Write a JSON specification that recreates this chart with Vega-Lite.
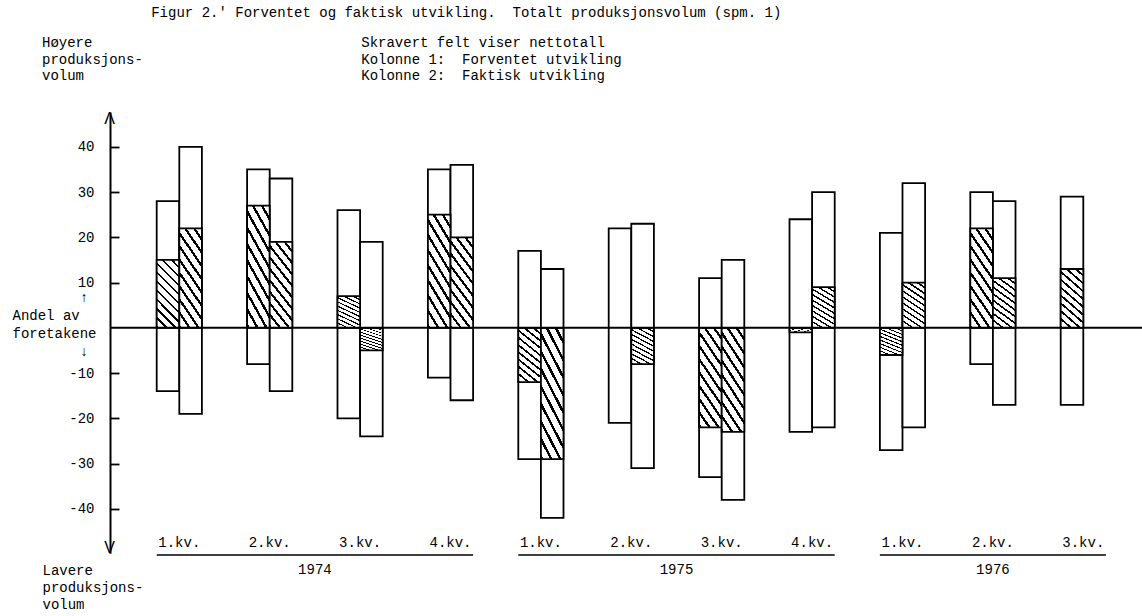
{
  "$schema": "https://vega.github.io/schema/vega-lite/v6.json",
  "width": 1032,
  "height": 441.2,
  "autosize": {"type": "none"},
  "padding": {"left": 110, "top": 112, "right": 0, "bottom": 62.8},
  "background": "white",
  "config": {
    "view": {"stroke": null},
    "font": "Liberation Mono",
    "axis": {
      "labelFont": "Liberation Mono", "labelFontSize": 14, "labelColor": "black",
      "titleFont": "Liberation Mono", "titleFontSize": 14, "titleFontWeight": "normal", "titleColor": "black",
      "domainColor": "black", "tickColor": "black", "grid": false
    }
  },
  "resolve": {"axis": {"y": "independent"}},
  "title": {
    "text": "\u200b\u00a0\u00a0\u00a0\u00a0\u00a0\u00a0\u00a0\u00a0\u00a0\u00a0\u00a0\u00a0\u00a0Figur 2.'\u00a0Forventet og faktisk utvikling.\u00a0\u00a0Totalt produksjonsvolum (spm. 1)",
    "subtitle": [
      "Høyere\u00a0\u00a0\u00a0\u00a0\u00a0\u00a0\u00a0\u00a0\u00a0\u00a0\u00a0\u00a0\u00a0\u00a0\u00a0\u00a0\u00a0\u00a0\u00a0\u00a0\u00a0\u00a0\u00a0\u00a0\u00a0\u00a0\u00a0\u00a0\u00a0\u00a0\u00a0\u00a0Skravert felt viser nettotall",
      "produksjons-\u00a0\u00a0\u00a0\u00a0\u00a0\u00a0\u00a0\u00a0\u00a0\u00a0\u00a0\u00a0\u00a0\u00a0\u00a0\u00a0\u00a0\u00a0\u00a0\u00a0\u00a0\u00a0\u00a0\u00a0\u00a0\u00a0Kolonne 1:\u00a0\u00a0Forventet utvikling",
      "volum\u00a0\u00a0\u00a0\u00a0\u00a0\u00a0\u00a0\u00a0\u00a0\u00a0\u00a0\u00a0\u00a0\u00a0\u00a0\u00a0\u00a0\u00a0\u00a0\u00a0\u00a0\u00a0\u00a0\u00a0\u00a0\u00a0\u00a0\u00a0\u00a0\u00a0\u00a0\u00a0\u00a0Kolonne 2:\u00a0\u00a0Faktisk utvikling"
    ],
    "anchor": "start",
    "frame": "group",
    "dx": -68,
    "offset": 27,
    "font": "Liberation Mono",
    "fontSize": 14,
    "fontWeight": "normal",
    "color": "black",
    "subtitleFont": "Liberation Mono",
    "subtitleFontSize": 14,
    "subtitleColor": "black",
    "subtitleLineHeight": 16.5,
    "subtitlePadding": 16
  },
  "datasets": {
    "bars": [
      {"period": "1974-1", "col": "1", "top": 28, "net": 15, "bottom": -14},
      {"period": "1974-1", "col": "2", "top": 40, "net": 22, "bottom": -19},
      {"period": "1974-2", "col": "1", "top": 35, "net": 27, "bottom": -8},
      {"period": "1974-2", "col": "2", "top": 33, "net": 19, "bottom": -14},
      {"period": "1974-3", "col": "1", "top": 26, "net": 7, "bottom": -20},
      {"period": "1974-3", "col": "2", "top": 19, "net": -5, "bottom": -24},
      {"period": "1974-4", "col": "1", "top": 35, "net": 25, "bottom": -11},
      {"period": "1974-4", "col": "2", "top": 36, "net": 20, "bottom": -16},
      {"period": "1975-1", "col": "1", "top": 17, "net": -12, "bottom": -29},
      {"period": "1975-1", "col": "2", "top": 13, "net": -29, "bottom": -42},
      {"period": "1975-2", "col": "1", "top": 22, "net": null, "bottom": -21},
      {"period": "1975-2", "col": "2", "top": 23, "net": -8, "bottom": -31},
      {"period": "1975-3", "col": "1", "top": 11, "net": -22, "bottom": -33},
      {"period": "1975-3", "col": "2", "top": 15, "net": -23, "bottom": -38},
      {"period": "1975-4", "col": "1", "top": 24, "net": -1, "bottom": -23},
      {"period": "1975-4", "col": "2", "top": 30, "net": 9, "bottom": -22},
      {"period": "1976-1", "col": "1", "top": 21, "net": -6, "bottom": -27},
      {"period": "1976-1", "col": "2", "top": 32, "net": 10, "bottom": -22},
      {"period": "1976-2", "col": "1", "top": 30, "net": 22, "bottom": -8},
      {"period": "1976-2", "col": "2", "top": 28, "net": 11, "bottom": -17},
      {"period": "1976-3", "col": "1", "top": 29, "net": 13, "bottom": -17}
    ],
    "years": [
      {"year": "1974", "first": "1974-1", "last": "1974-4", "mid": "1974-2"},
      {"year": "1975", "first": "1975-1", "last": "1975-4", "mid": "1975-2"},
      {"year": "1976", "first": "1976-1", "last": "1976-3", "mid": "1976-2"}
    ]
  },
  "layer": [
    {
      "data": {"name": "bars"},
      "mark": {"type": "bar", "fill": "white", "stroke": "black", "strokeWidth": 1.8},
      "encoding": {
        "x": {
          "field": "period", "type": "nominal",
          "scale": {"paddingInner": 0.5, "paddingOuter": 0.458, "align": 0.564},
          "axis": {
            "labelExpr": "substring(datum.value, 5) + '.kv.'",
            "labelAngle": 0, "domain": false, "ticks": false, "offset": -18,
            "labelPadding": 0, "labelBaseline": "top",
            "title": ["Lavere", "produksjons-", "volum"],
            "titleAngle": 0, "titleAlign": "left", "titleBaseline": "top",
            "titleX": -68, "titleY": 28.3, "titleLineHeight": 17
          }
        },
        "xOffset": {"field": "col", "type": "nominal"},
        "y": {
          "field": "bottom", "type": "quantitative",
          "scale": {"domain": [-49.8, 47.7], "nice": false, "zero": false},
          "axis": {
            "orient": "left",
            "values": [-40, -30, -20, -10, 10, 20, 30, 40],
            "labelExpr": "'' + datum.value",
            "tickSize": -9, "tickWidth": 1.8, "domainWidth": 2, "labelPadding": 25,
            "title": ["\u200b\u00a0\u00a0\u00a0\u00a0\u00a0\u00a0\u00a0\u00a0↑", "Andel av", "foretakene", "\u200b\u00a0\u00a0\u00a0\u00a0\u00a0\u00a0\u00a0\u00a0↓"],
            "titleAngle": 0, "titleAlign": "left", "titleBaseline": "top",
            "titleX": -98, "titleY": 178, "titleLineHeight": 18
          }
        },
        "y2": {"field": "top"}
      }
    },
    {
      "data": {"name": "bars"},
      "mark": {
        "type": "bar", "stroke": "black", "strokeWidth": 1.8,
        "fill": {
          "gradient": "linear", "x1": 0.3, "y1": 1.1, "x2": 0.7, "y2": -0.1,
          "stops": [
            {"offset": 0.0, "color": "black"}, {"offset": 0.03, "color": "black"}, {"offset": 0.03, "color": "white"}, {"offset": 0.1, "color": "white"},
            {"offset": 0.1, "color": "black"}, {"offset": 0.13, "color": "black"}, {"offset": 0.13, "color": "white"}, {"offset": 0.2, "color": "white"},
            {"offset": 0.2, "color": "black"}, {"offset": 0.23, "color": "black"}, {"offset": 0.23, "color": "white"}, {"offset": 0.3, "color": "white"},
            {"offset": 0.3, "color": "black"}, {"offset": 0.33, "color": "black"}, {"offset": 0.33, "color": "white"}, {"offset": 0.4, "color": "white"},
            {"offset": 0.4, "color": "black"}, {"offset": 0.43, "color": "black"}, {"offset": 0.43, "color": "white"}, {"offset": 0.5, "color": "white"},
            {"offset": 0.5, "color": "black"}, {"offset": 0.53, "color": "black"}, {"offset": 0.53, "color": "white"}, {"offset": 0.6, "color": "white"},
            {"offset": 0.6, "color": "black"}, {"offset": 0.63, "color": "black"}, {"offset": 0.63, "color": "white"}, {"offset": 0.7, "color": "white"},
            {"offset": 0.7, "color": "black"}, {"offset": 0.73, "color": "black"}, {"offset": 0.73, "color": "white"}, {"offset": 0.8, "color": "white"},
            {"offset": 0.8, "color": "black"}, {"offset": 0.83, "color": "black"}, {"offset": 0.83, "color": "white"}, {"offset": 0.9, "color": "white"},
            {"offset": 0.9, "color": "black"}, {"offset": 0.93, "color": "black"}, {"offset": 0.93, "color": "white"}, {"offset": 1.0, "color": "white"}
          ]
        }
      },
      "encoding": {
        "x": {"field": "period", "type": "nominal"},
        "xOffset": {"field": "col", "type": "nominal"},
        "y": {"field": "net", "type": "quantitative", "axis": null},
        "y2": {"datum": 0}
      }
    },
    {
      "data": {"values": [{}]},
      "mark": {"type": "rule", "strokeWidth": 2, "color": "black"},
      "encoding": {
        "y": {
          "datum": 0,
          "axis": {
            "orient": "left",
            "values": [46.3, -48.5],
            "labelExpr": "datum.value > 0 ? 'Λ' : 'V'",
            "labelFont": "Liberation Sans", "labelFontSize": 16,
            "labelAlign": "center", "labelBaseline": "middle",
            "labelPadding": 1, "ticks": false, "domain": false, "grid": false,
            "title": null
          }
        }
      }
    },
    {
      "data": {"name": "years"},
      "mark": {"type": "rule", "strokeWidth": 1.6, "color": "black"},
      "encoding": {
        "x": {"field": "first", "type": "nominal", "bandPosition": 0},
        "x2": {"field": "last", "bandPosition": 1},
        "y": {"datum": -50.2, "axis": null}
      }
    },
    {
      "data": {"name": "years"},
      "transform": [{"filter": "datum.year != '1976'"}],
      "mark": {"type": "text", "font": "Liberation Mono", "fontSize": 14, "color": "black", "align": "center", "baseline": "middle"},
      "encoding": {
        "x": {"field": "mid", "type": "nominal", "bandPosition": 1.5},
        "y": {"datum": -53.5, "axis": null},
        "text": {"field": "year"}
      }
    },
    {
      "data": {"name": "years"},
      "transform": [{"filter": "datum.year == '1976'"}],
      "mark": {"type": "text", "font": "Liberation Mono", "fontSize": 14, "color": "black", "align": "center", "baseline": "middle"},
      "encoding": {
        "x": {"field": "mid", "type": "nominal", "bandPosition": 0.5},
        "y": {"datum": -53.5, "axis": null},
        "text": {"field": "year"}
      }
    }
  ]
}
